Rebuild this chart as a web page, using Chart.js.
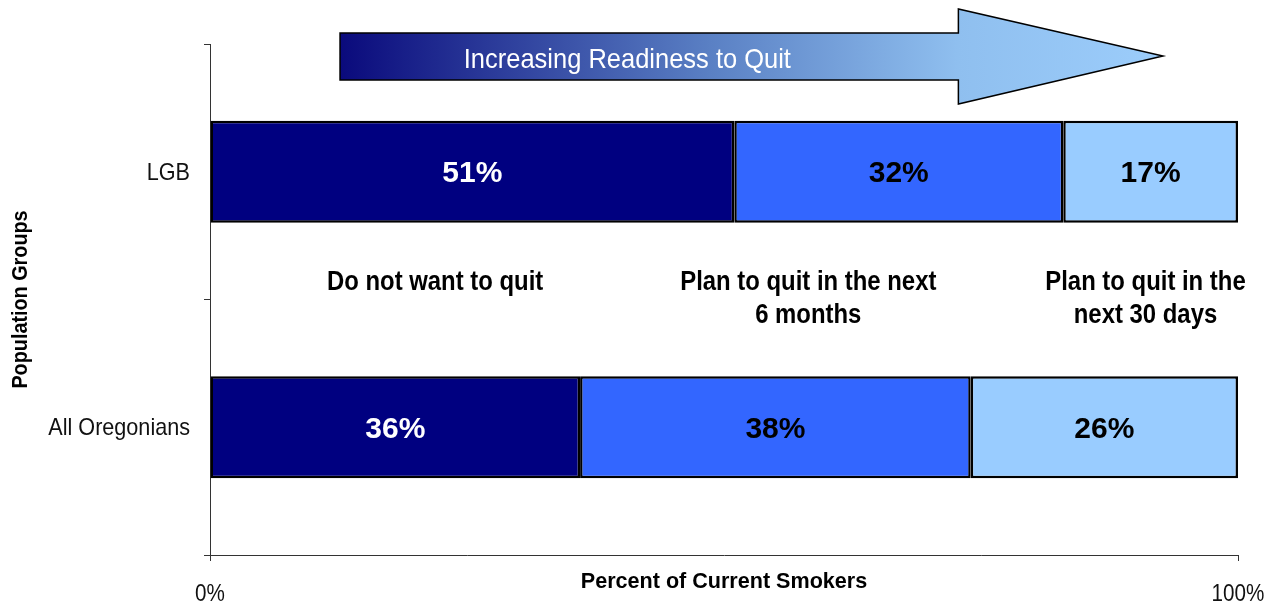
<!DOCTYPE html>
<html>
<head>
<meta charset="utf-8">
<script src="https://cdn.jsdelivr.net/npm/chart.js@4.4.1/dist/chart.umd.min.js"></script>
<style>
    html, body { margin: 0; padding: 0; background: #fff; }
    #wrap { width: 1272px; height: 605px; position: relative; }
</style>
</head>
<body>
<div id="wrap"><canvas id="readinessChart"></canvas></div>
<script>
const FONT = '"Liberation Sans", Arial, sans-serif';

// population groups and readiness stages
const groups = ['LGB', 'All Oregonians'];
const notWantToQuit = [51, 36];
const quitSixMonths = [32, 38];
const quitThirtyDays = [17, 26];
const xTickValues = [0, 100];
const xTickLabels = ['0%', '100%'];

const stageLabels = [
    { lines: ['Do not want to quit'], x: 21.9 },
    { lines: ['Plan to quit in the next', '6 months'], x: 58.2 },
    { lines: ['Plan to quit in the', 'next 30 days'], x: 91.0 }
];

// narrow text: squeeze the face horizontally around the anchor point
function narrowText(ctx, text, x, y, font, sx, align) {
    ctx.save();
    ctx.font = font;
    ctx.textAlign = align || 'center';
    ctx.textBaseline = 'alphabetic';
    ctx.translate(x, y);
    ctx.scale(sx, 1);
    ctx.fillText(text, 0, 0);
    ctx.restore();
}

// values on the bars
const barLabels = {
    id: 'barLabels',
    afterDatasetsDraw(chart) {
        const ctx = chart.ctx;
        chart.data.datasets.forEach((ds, i) => {
            chart.getDatasetMeta(i).data.forEach((bar, j) => {
                const cx = (bar.x + bar.base) / 2;
                ctx.fillStyle = i === 0 ? '#ffffff' : '#000000';
                narrowText(ctx, ds.data[j] + '%', cx, bar.y + 10.5, 'bold 30px ' + FONT, 1);
            });
        });
    }
};

// axis labels, stage captions, readiness arrow
const annotations = {
    id: 'annotations',
    afterDraw(chart) {
        const ctx = chart.ctx;
        const xs = chart.scales.x;
        const ys = chart.scales.y;
        const area = chart.chartArea;
        const midY = (ys.getPixelForValue(0) + ys.getPixelForValue(1)) / 2;

        ctx.fillStyle = '#111';
        groups.forEach((g, i) => {
            narrowText(ctx, g, area.left - 20, ys.getPixelForValue(i) + 8, '24px ' + FONT, 0.9, 'right');
        });
        xTickValues.forEach((v, i) => {
            narrowText(ctx, xTickLabels[i], xs.getPixelForValue(v), area.bottom + 46, '24px ' + FONT, 0.86, 'center');
        });

        ctx.fillStyle = '#000';
        narrowText(ctx, 'Percent of Current Smokers', (area.left + area.right) / 2, area.bottom + 33, 'bold 22px ' + FONT, 0.98);

        ctx.save();
        ctx.translate(27, (area.top + area.bottom) / 2);
        ctx.rotate(-Math.PI / 2);
        narrowText(ctx, 'Population Groups', 0, 0, 'bold 22px ' + FONT, 0.9);
        ctx.restore();

        stageLabels.forEach(s => {
            s.lines.forEach((line, k) => {
                narrowText(ctx, line, xs.getPixelForValue(s.x), midY - 10 + k * 33, 'bold 27px ' + FONT, 0.885);
            });
        });

        // arrow
        const x0 = xs.getPixelForValue(12.65);
        const xh = xs.getPixelForValue(72.8);
        const xt = xs.getPixelForValue(92.7);
        const top = area.top;
        const grad = ctx.createLinearGradient(x0, 0, xt, 0);
        grad.addColorStop(0, '#0a0a7c');
        grad.addColorStop(0.45, '#5a80c4');
        grad.addColorStop(0.75, '#8fbfef');
        grad.addColorStop(1, '#9ccdfb');
        ctx.save();
        ctx.beginPath();
        ctx.moveTo(x0, top - 11);
        ctx.lineTo(xh, top - 11);
        ctx.lineTo(xh, top - 35);
        ctx.lineTo(xt, top + 12);
        ctx.lineTo(xh, top + 60);
        ctx.lineTo(xh, top + 36);
        ctx.lineTo(x0, top + 36);
        ctx.closePath();
        ctx.fillStyle = grad;
        ctx.fill();
        ctx.lineWidth = 1.5;
        ctx.strokeStyle = '#000';
        ctx.stroke();
        ctx.restore();

        ctx.fillStyle = '#fff';
        narrowText(ctx, 'Increasing Readiness to Quit', xs.getPixelForValue(40.6), top + 24, '28px ' + FONT, 0.91);
    }
};

const ctx = document.getElementById('readinessChart').getContext('2d');
new Chart(ctx, {
    type: 'bar',
    data: {
        labels: groups,
        datasets: [
            { label: 'Do not want to quit', data: notWantToQuit, backgroundColor: '#000080' },
            { label: 'Plan to quit in the next 6 months', data: quitSixMonths, backgroundColor: '#3366ff' },
            { label: 'Plan to quit in the next 30 days', data: quitThirtyDays, backgroundColor: '#99ccff' }
        ].map(ds => Object.assign(ds, {
            borderColor: '#000',
            borderWidth: 2.5,
            borderSkipped: false,
            barPercentage: 0.4,
            categoryPercentage: 1.0
        }))
    },
    options: {
        indexAxis: 'y',
        responsive: true,
        maintainAspectRatio: false,
        animation: false,
        layout: { padding: { left: 0, right: 34, top: 44, bottom: 0 } },
        plugins: {
            legend: { display: false },
            tooltip: { enabled: false }
        },
        scales: {
            x: {
                stacked: true,
                min: 0,
                max: 100,
                afterFit: scale => { scale.height = 50; },
                afterBuildTicks: scale => { scale.ticks = xTickValues.map(v => ({ value: v })); },
                ticks: { display: false },
                grid: { drawOnChartArea: false, drawTicks: true, tickLength: 6, color: '#333' },
                border: { color: '#333', width: 1 }
            },
            y: {
                stacked: true,
                afterFit: scale => { scale.width = 210; },
                ticks: { display: false },
                grid: { drawOnChartArea: false, drawTicks: true, tickLength: 6, color: '#333' },
                border: { color: '#333', width: 1 }
            }
        }
    },
    plugins: [barLabels, annotations]
});
</script>
</body>
</html>
